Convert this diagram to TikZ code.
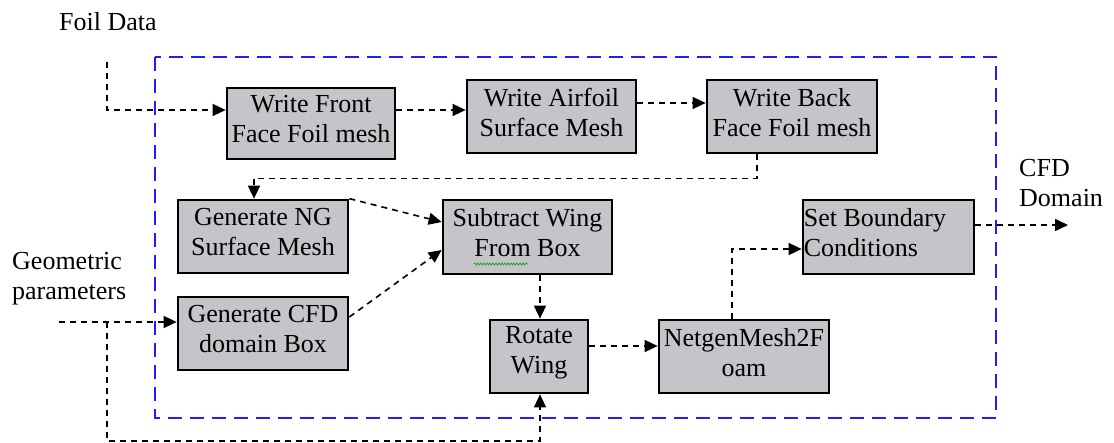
\documentclass[tikz,border=0pt]{standalone}
\usepackage{fontspec}
\setmainfont{Liberation Serif}
\usetikzlibrary{arrows.meta,decorations.pathmorphing}
\definecolor{boxgray}{RGB}{198,196,200}
\definecolor{frameblue}{RGB}{30,30,255}
\definecolor{squig}{RGB}{40,160,40}
\tikzset{
  procbox/.style={draw=black, line width=2.7pt, fill=boxgray, inner sep=0pt},
  boxtext/.style={inner sep=0pt, align=center, font=\fontsize{26}{30}\selectfont},
  flow/.style={draw=black, line width=1.6pt, dash pattern=on 6pt off 5pt,
    -{Triangle[length=13pt,width=12pt]}},
  frame/.style={draw=frameblue, line width=2pt, dash pattern=on 14pt off 8pt},
  lbl/.style={font=\fontsize{26}{30}\selectfont, inner sep=0pt}
}
\begin{document}
\begin{tikzpicture}[x=1pt,y=-1pt]
\useasboundingbox (0,0) rectangle (1114,443);
% frame
\draw[frame] (155,57) rectangle (996,418);
% boxes
\node[procbox, minimum width=168pt, minimum height=71pt] (A) at (311,123.5) {};
\node[procbox, minimum width=169pt, minimum height=73pt] (B) at (551.5,116.5) {};
\node[procbox, minimum width=170pt, minimum height=73pt] (C) at (792,116.5) {};
\node[procbox, minimum width=170pt, minimum height=73pt] (D) at (263,236.5) {};
\node[procbox, minimum width=170pt, minimum height=73pt] (E) at (263,333.5) {};
\node[procbox, minimum width=169pt, minimum height=74pt] (F) at (527.5,237) {};
\node[procbox, minimum width=98pt, minimum height=73pt] (G) at (539,356.5) {};
\node[procbox, minimum width=170pt, minimum height=73pt] (H) at (744,356.5) {};
\node[procbox, minimum width=171pt, minimum height=74pt] (I) at (888.5,237) {};
% box texts
\node[boxtext] (At) at ([yshift=4pt]A.center) {Write Front\\Face Foil mesh};
\node[boxtext] (Bt) at ([yshift=4pt]B.center) {Write Airfoil\\Surface Mesh};
\node[boxtext] (Ct) at ([yshift=4pt]C.center) {Write Back\\Face Foil mesh};
\node[boxtext] (Dt) at ([yshift=4pt]D.center) {Generate NG\\Surface Mesh};
\node[boxtext] (Et) at ([yshift=4pt]E.center) {Generate CFD\\domain Box};
\node[boxtext] (Ft) at ([yshift=4pt]F.center) {Subtract Wing\\From Box};
\node[boxtext] (Gt) at ([yshift=4pt]G.center) {Rotate\\Wing};
\node[boxtext] (Ht) at ([yshift=4pt]H.center) {NetgenMesh2F\\oam};
\node[boxtext, align=left, anchor=west] (It) at ([xshift=2pt,yshift=4pt]I.west) {Set Boundary\\Conditions};
% squiggle under From
\draw[squig, line width=0.8pt, decorate, decoration={snake, amplitude=1pt, segment length=3pt}] (474,264) -- (528,264);
% labels
\node[lbl, anchor=west] (foil) at (59,22) {Foil Data};
\node[lbl, anchor=west, align=left] (geo) at (12,279) {Geometric\\parameters};
\node[lbl, anchor=west, align=left] (cfd) at (1019,183) {CFD\\Domain};
% free ends
\coordinate (fs) at (107,62);
\coordinate (gs) at (59,322);
\coordinate (gb) at (107,322);
\coordinate (gc) at (107,441);
\coordinate (out) at (1068,225);
% connectors
\draw[flow] (fs) |- ([yshift=13.5pt]A.west);
\draw[flow] ([yshift=13.5pt]A.east) -- ([yshift=6.5pt]B.west);
\draw[flow] ([yshift=13.5pt]B.east) -- ([yshift=13.5pt]C.west);
\draw[flow] ([xshift=-35pt]C.south) -- ++(0,24) -| ([xshift=-9pt]D.north);
\draw[flow] (D.north east) -- ([yshift=15pt]F.west);
\draw[flow] ([yshift=16.5pt]E.east) -- ([yshift=-13pt]F.west);
\draw[flow] ([xshift=12.5pt]F.south) -- ([xshift=1pt]G.north);
\draw[flow] ([yshift=10.5pt]G.east) -- ([yshift=10.5pt]H.west);
\draw[flow] ([xshift=-12pt]H.north) |- ([yshift=-12pt]I.west);
\draw[flow] ([yshift=12pt]I.east) -- (out);
\draw[flow] (gs) -- ([yshift=11.5pt]E.west);
\draw[flow] (gb) -- (gc) -| ([xshift=1pt]G.south);
\end{tikzpicture}
\end{document}
